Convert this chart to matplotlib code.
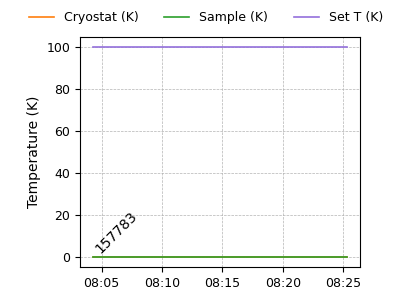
import matplotlib

matplotlib.use("Agg")
import matplotlib.pyplot as plt
import matplotlib.dates as mdates
import pandas as pd

times = ["08:04:16", "08:09:30", "08:14:45", "08:20:00", "08:25:20"]
cryostat_k = [0.0, 0.0, 0.0, 0.0, 0.0]
sample_k = [0.0, 0.0, 0.0, 0.0, 0.0]
set_t_k = [100.0, 100.0, 100.0, 100.0, 100.0]
run_label = "157783"

t = pd.to_datetime(["2024-01-01 " + s for s in times])

fig, ax = plt.subplots(figsize=(4, 3), dpi=100)
ax.plot(t, cryostat_k, color="tab:orange", lw=1.2, label="Cryostat (K)")
ax.plot(t, sample_k, color="tab:green", lw=1.2, label="Sample (K)")
ax.plot(t, set_t_k, color="mediumpurple", lw=1.2, label="Set T (K)")
ax.text(t[0], sample_k[0], run_label, rotation=45, ha="left", va="bottom",
        fontsize=10)

ax.set_ylabel("Temperature (K)")
ax.grid(True, ls="--", lw=0.5, color="0.7")
ax.xaxis.set_major_locator(mdates.MinuteLocator(byminute=range(0, 60, 5)))
ax.xaxis.set_major_formatter(mdates.DateFormatter("%H:%M"))
ax.tick_params(labelsize=9)
fig.legend(loc="upper center", ncol=3, frameon=False, fontsize=9,
           bbox_to_anchor=(0.515, 1.0), columnspacing=2.05)
fig.subplots_adjust(left=0.2, right=0.9, top=0.877, bottom=0.11)
fig.savefig("out.png")
